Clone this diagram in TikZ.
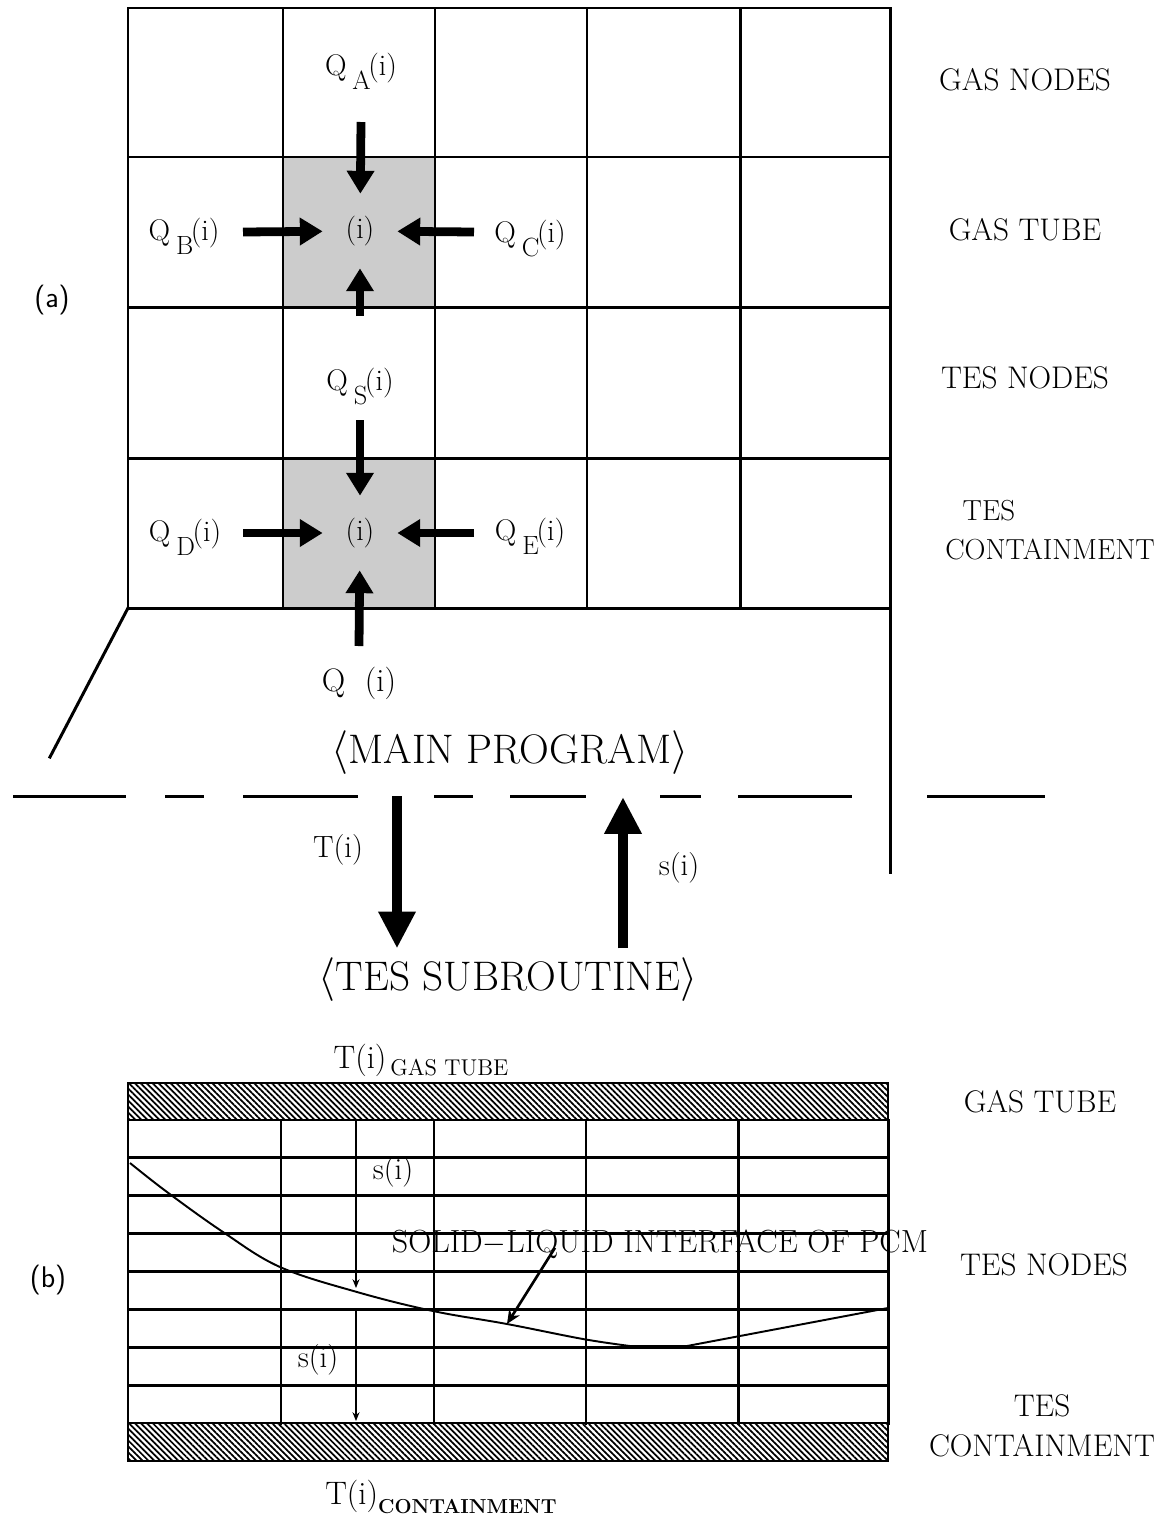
\documentclass[tikz,border=0pt]{standalone}
\usepackage{tikz}
\usetikzlibrary{arrows.meta, patterns.meta}

\newcommand{\qsub}[1]{Q\hspace{0.2em}\raisebox{-1.15ex}{\fontsize{15}{15}\selectfont #1}\hspace{-0.08em}(i)}

\tikzset{
  grid/.style={line width=1.7pt, line cap=rect},
  cellfill/.style={fill=black!20},
  hatchband/.style={draw, line width=1.6pt,
    pattern={Lines[angle=-45, distance=2.4pt, line width=1pt]}},
  flux/.style={line width=5pt, -{Triangle[length=13pt, width=15pt]}},
  bigflux/.style={line width=5.7pt, -{Triangle[length=21pt, width=20pt]}},
  thinflux/.style={line width=1pt, -{Stealth[length=5pt, width=4pt]}},
  ptr/.style={line width=1.5pt, -{Stealth[length=8pt, width=7pt]}},
  qlabel/.style={font=\fontsize{17}{19}\selectfont, anchor=base, inner sep=0pt},
  cell/.style={circle, minimum size=1.48cm, inner sep=0pt, font=\fontsize{17}{19}\selectfont},
  sidelabel/.style={font=\fontsize{17.8}{22.5}\selectfont, align=center},
  prog/.style={font=\fontsize{23.5}{26}\selectfont},
  plain/.style={font=\fontsize{17.5}{20}\selectfont},
}

\begin{document}
\begin{tikzpicture}[x=0.02cm, y=-0.02cm]
\useasboundingbox (0,0) rectangle (1163,1515);

% (a) node grid of the main program
\fill[cellfill] (283,157) rectangle (435,307);
\fill[cellfill] (283,458) rectangle (435,608);
\foreach \x in {128,283,435,587,740}
  \draw[grid] (\x,8) -- (\x,608);
\draw[grid] (890,8) -- (890,872);
\foreach \y in {8,157,307,458,608}
  \draw[grid] (128,\y) -- (890,\y);
\draw[grid] (128,608) -- (50,757);

\node[cell] (c1) at (360,231) {(i)};
\node[cell] (c2) at (360,533) {(i)};

\node[qlabel] (qa) at (361,75) {\qsub{A}};
\node[qlabel] (qb) at (184,240) {\qsub{B}};
\node[qlabel] (qc) at (530,242) {\qsub{C}};
\node[qlabel] (qs) at (360,390) {\qsub{S}};
\node[qlabel] (qd) at (185,541) {\qsub{D}};
\node[qlabel] (qe) at (530,540) {\qsub{E}};
\node[qlabel, font=\fontsize{18.5}{20}\selectfont] (qw) at (359,691) {Q\ \ (i)};

\coordinate (qa-t) at (361,122);
\coordinate (qb-t) at (243,232);
\coordinate (qc-t) at (474,232);
\coordinate (qs-up) at (360,316);
\coordinate (qs-dn) at (360,420);
\coordinate (qd-t) at (243,533);
\coordinate (qe-t) at (474,533);
\coordinate (qw-t) at (359,646);
\draw[flux] (qa-t) -- (c1);
\draw[flux] (qb-t) -- (c1);
\draw[flux] (qc-t) -- (c1);
\draw[flux] (qs-up) -- (c1);
\draw[flux] (qs-dn) -- (c2);
\draw[flux] (qd-t) -- (c2);
\draw[flux] (qe-t) -- (c2);
\draw[flux] (qw-t) -- (c2);

\node[sidelabel] (gasnodes) at (1025,80) {GAS NODES};
\node[sidelabel] (gastube) at (1025,230) {GAS TUBE};
\node[sidelabel] (tesnodes) at (1025,378) {TES NODES};
\node[sidelabel, align=left, font=\fontsize{16.5}{22.5}\selectfont] (tescont) at (1050,530)
  {\hspace*{0.6em}TES\\CONTAINMENT};
\node[plain, font=\sffamily\fontsize{17}{20}\selectfont] (parta) at (52,300) {(a)};

% program exchange
\node[prog] (main) at (510,753) {$\langle$MAIN PROGRAM$\rangle$};
\node[prog] (tes) at (508,980) {$\langle$TES SUBROUTINE$\rangle$};
\foreach \a/\b in {13/126,165/204,243/358,434/473,510/586,660/701,738/852,927/1045}
  \draw[grid, line cap=butt] (\a,796) -- (\b,796);
\coordinate (t-top) at (397,796);
\coordinate (s-top) at (623,797);
\draw[bigflux, shorten >=2pt] (t-top) -- (t-top |- tes.north);
\draw[bigflux, shorten <=2pt] (s-top |- tes.north) -- (s-top);
\node[plain] (tlab) at (338,850) {T(i)};
\node[plain] (slab) at (679,868) {s(i)};

% (b) TES nodes
\draw[hatchband] (128,1083) rectangle (888,1120);
\draw[hatchband] (128,1423) rectangle (888,1461);
\foreach \i in {1,...,7}
  \draw[grid] (128,{1120+37.875*\i}) -- (888,{1120+37.875*\i});
\foreach \x in {128,281,434,586,738,888}
  \draw[grid] (\x,1120) -- (\x,1423);

\node[plain, font=\fontsize{18.5}{20}\selectfont] (tgas) at (421,1060)
  {T(i)\raisebox{-0.55ex}{\fontsize{13}{14}\selectfont\,GAS TUBE}};
\node[plain, font=\fontsize{18.5}{20}\selectfont] (tcont) at (441,1497)
  {T(i)\raisebox{-0.6ex}{\fontsize{11.5}{14}\selectfont\bfseries CONTAINMENT}};

\coordinate (sa-top) at (356,1120);
\coordinate (sa-end) at (356,1288);
\coordinate (sb-top) at (356,1310);
\coordinate (sb-end) at (356,1421);
\draw[thinflux] (sa-top) -- (sa-end);
\draw[thinflux] (sb-top) -- (sb-end);
\node[plain] (sa) at (393,1172) {s(i)};
\node[plain] (sb) at (318,1360) {s(i)};

\draw[line width=1.1pt] plot[smooth, tension=0.6] coordinates {(130,1163) (167,1192) (223,1232)
  (280,1267) (357,1292) (433,1311) (507,1324) (583,1339) (630,1346)} -- (687,1346) -- (888,1308);
\node[plain, font=\fontsize{18.2}{20}\selectfont, inner sep=0pt] (pcm) at (660,1244)
  {SOLID$-$LIQUID INTERFACE OF PCM};
\coordinate (ifc) at (507,1324);
\draw[ptr] ([shift={(-105,-11)}]pcm.south) -- (ifc);

\node[sidelabel] (gastube-b) at (1040,1102) {GAS TUBE};
\node[sidelabel] (tesnodes-b) at (1044,1265) {TES NODES};
\node[sidelabel] (tescont-b) at (1042,1426) {TES\\CONTAINMENT};
\node[plain, font=\sffamily\fontsize{17}{20}\selectfont] (partb) at (48,1280) {(b)};
\end{tikzpicture}
\end{document}
